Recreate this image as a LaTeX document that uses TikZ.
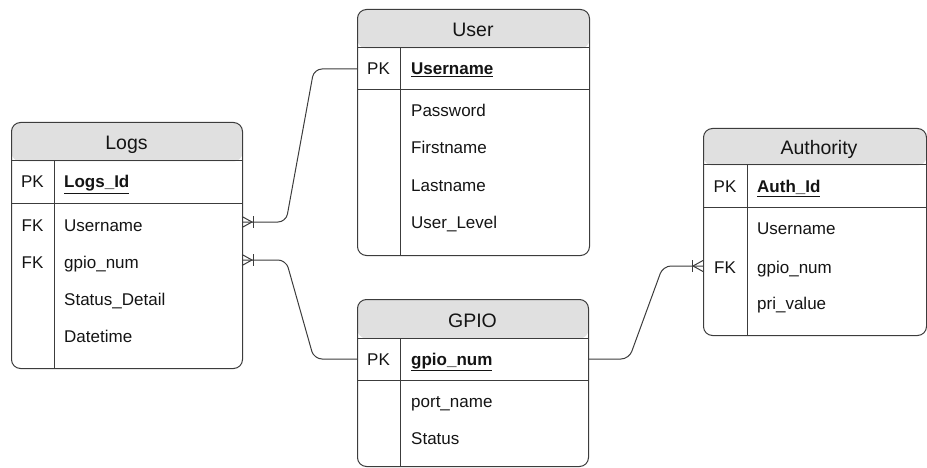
\documentclass[tikz,border=0pt]{standalone}
\usepackage{fontspec}
\setmainfont{Liberation Sans}
\usetikzlibrary{calc}

\definecolor{edge}{RGB}{60,60,60}
\definecolor{headfill}{RGB}{224,224,224}
\definecolor{ink}{RGB}{20,20,20}

\tikzset{
  tbl/.style={draw=edge, line width=1pt, rounded corners=9pt, inner sep=0pt,
    anchor=north west,
    path picture={\fill[headfill] (path picture bounding box.north west)
      rectangle ([yshift=-#1]path picture bounding box.north east);}},
  rule/.style={draw=edge, line width=1pt},
  ttl/.style={anchor=base, inner sep=0pt, text=ink, font=\fontsize{19.5}{22}\selectfont},
  fld/.style={anchor=base west, inner sep=0pt, text=ink, font=\fontsize{17}{20}\selectfont},
  keytag/.style={anchor=base, inner sep=0pt, text=ink, font=\fontsize{17}{20}\selectfont},
  rel/.style={draw=edge, line width=1pt, rounded corners=8pt},
  foot/.style={draw=edge, line width=1pt},
}

% crow's foot (one or many): prongs touch the entity at #1, bar behind; #2 = +1 opens left, -1 opens right
\newcommand{\crowfoot}[2]{%
  \draw[foot] ($(#1)+(0,-5.5)$) -- ($(#1)+(#2*10,0)$) -- ($(#1)+(0,5.5)$);
  \draw[foot] ($(#1)+(#2*11,-6)$) -- ($(#1)+(#2*11,6)$);
}

\begin{document}
\begin{tikzpicture}[x=1pt, y=-1pt]
\useasboundingbox (0,0) rectangle (927,468);

% ---------------- Logs ----------------
\node[tbl=39pt, minimum width=231pt, minimum height=246pt] (logs) at (11,122) {};
\draw[rule] (11,161) -- (242,161);
\draw[rule] (11,204) -- (242,204);
\draw[rule] (54,161) -- (54,368);
\node[ttl] (logs-t) at (126.5,150) {Logs};
\node[keytag] (logs-pk) at (32.5,188) {PK};
\node[fld] (logs-f0) at (64,188) {\underline{\textbf{Logs\_Id}}};
\node[keytag] (logs-fk1) at (32.5,231) {FK};
\node[fld] (logs-f1) at (64,231) {Username};
\node[keytag] (logs-fk2) at (32.5,268) {FK};
\node[fld] (logs-f2) at (64,268) {gpio\_num};
\node[fld] (logs-f3) at (64,305) {Status\_Detail};
\node[fld] (logs-f4) at (64,342) {Datetime};

% ---------------- User ----------------
\node[tbl=39pt, minimum width=232pt, minimum height=246pt] (user) at (357,9) {};
\draw[rule] (357,48) -- (589,48);
\draw[rule] (357,90) -- (589,90);
\draw[rule] (400,48) -- (400,255);
\node[ttl] (user-t) at (473,36.5) {User};
\node[keytag] (user-pk) at (378.5,75) {PK};
\node[fld] (user-f0) at (411,75) {\underline{\textbf{Username}}};
\node[fld] (user-f1) at (411,117) {Password};
\node[fld] (user-f2) at (411,154) {Firstname};
\node[fld] (user-f3) at (411,192) {Lastname};
\node[fld] (user-f4) at (411,229) {User\_Level};

% ---------------- GPIO ----------------
\node[tbl=39pt, minimum width=231pt, minimum height=167pt] (gpio) at (357,299) {};
\draw[rule] (357,338) -- (588,338);
\draw[rule] (357,380) -- (588,380);
\draw[rule] (400,338) -- (400,466);
\node[ttl] (gpio-t) at (472.5,327) {GPIO};
\node[keytag] (gpio-pk) at (378.5,365) {PK};
\node[fld] (gpio-f0) at (411,365) {\underline{\textbf{gpio\_num}}};
\node[fld] (gpio-f1) at (411,407) {port\_name};
\node[fld] (gpio-f2) at (411,444) {Status};

% ---------------- Authority ----------------
\node[tbl=37pt, minimum width=223pt, minimum height=207pt] (auth) at (703,128) {};
\draw[rule] (703,165) -- (926,165);
\draw[rule] (703,208) -- (926,208);
\draw[rule] (747,165) -- (747,335);
\node[ttl] (auth-t) at (819,155) {Authority};
\node[keytag] (auth-pk) at (725,193) {PK};
\node[fld] (auth-f0) at (757,193) {\underline{\textbf{Auth\_Id}}};
\node[fld] (auth-f1) at (757,234) {Username};
\node[keytag] (auth-fk) at (725,273) {FK};
\node[fld] (auth-f2) at (757,273) {gpio\_num};
\node[fld] (auth-f3) at (757,309) {pri\_value};

% ---------------- relationships ----------------
\coordinate (lu) at (242,222);
\coordinate (uu) at (357,69);
\coordinate (lg) at (242,260);
\coordinate (gp) at (357,359);
\coordinate (gr) at (588,359);
\coordinate (ag) at (703,266);

\draw[rel] (lu) -- ($(lu)+(44,0)$) -- ($(uu)+(-43,0)$) -- (uu);
\draw[rel] (lg) -- ($(lg)+(44,0)$) -- ($(gp)+(-43,0)$) -- (gp);
\draw[rel] (gr) -- ($(gr)+(41,0)$) -- ($(ag)+(-40,0)$) -- (ag);

\crowfoot{lu}{1}
\crowfoot{lg}{1}
\crowfoot{ag}{-1}
\end{tikzpicture}
\end{document}
